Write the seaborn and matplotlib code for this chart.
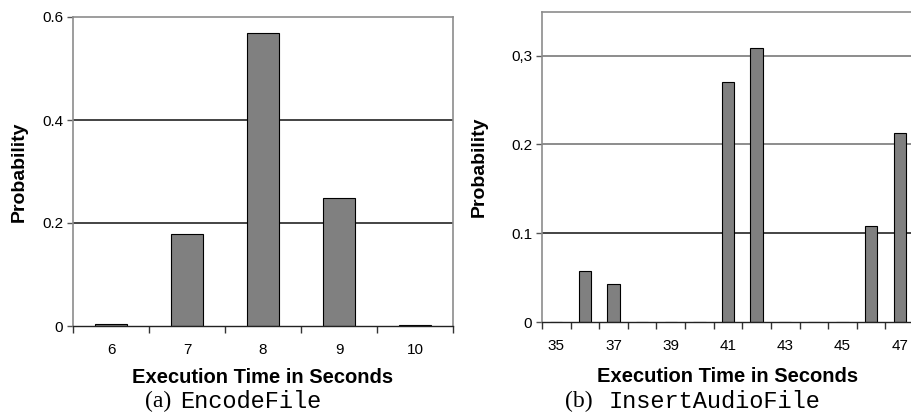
import numpy as np
import pandas as pd
import matplotlib
matplotlib.use("Agg")
import matplotlib.pyplot as plt
import seaborn as sns

sns.set_style("white")
plt.rcParams['font.family'] = ['Liberation Sans', 'DejaVu Sans']
plt.rcParams['text.color'] = 'black'
plt.rcParams['axes.labelcolor'] = 'black'
plt.rcParams['xtick.color'] = 'black'
plt.rcParams['ytick.color'] = 'black'

# -----------------------------------
# Data
# -----------------------------------
encode_times = [6, 7, 8, 9, 10]
encode_prob = [0.003, 0.179, 0.569, 0.249, 0.001]

insert_times = list(range(35, 48))
insert_prob = [0.0, 0.057, 0.043, 0.0, 0.0, 0.0, 0.27, 0.309,
               0.0, 0.0, 0.0, 0.108, 0.213]

left_yticks = [0, 0.2, 0.4, 0.6]
left_yticklabels = ["0", "0.2", "0.4", "0.6"]
right_yticks = [0, 0.1, 0.2, 0.3]
right_yticklabels = ["0", "0.1", "0.2", "0,3"]

BAR = "#808080"
SPINE = "#8c8c8c"

W, H = 911, 412
fig = plt.figure(figsize=(W / 100, H / 100), dpi=100)


def px_axes(x0, y0, x1, y1):
    return fig.add_axes([x0 / W, 1 - y1 / H, (x1 - x0) / W, (y1 - y0) / H])


def draw_panel(ax, times, probs, width, ylim, yticks, yticklabels,
               label_every, grid_colors):
    df = pd.DataFrame({"time": [str(t) for t in times], "prob": probs})
    sns.barplot(data=df, x="time", y="prob", order=df["time"], ax=ax,
                color=BAR, width=width, edgecolor="black", linewidth=0.8,
                saturation=1, errorbar=None)
    n = len(times)
    ax.set_xlim(-0.5, n - 0.5)
    ax.set_ylim(*ylim)

    # category labels centred, tick marks at category boundaries
    pos = np.arange(0, n, label_every)
    ax.set_xticks(pos)
    ax.set_xticklabels([str(times[i]) for i in pos])
    ax.set_xticks(np.arange(-0.5, n, 1.0), minor=True)
    ax.tick_params(axis="x", which="major", length=0, pad=12, labelsize=11)
    ax.tick_params(axis="x", which="minor", length=5, width=1, color="#333333",
                   direction="out", bottom=True)

    ax.set_yticks(yticks)
    ax.set_yticklabels(yticklabels)
    ax.tick_params(axis="y", length=4, width=1, color="#555555",
                   direction="out", pad=3, labelsize=11, left=True)

    for y, c in zip(yticks[1:], grid_colors):
        ax.axhline(y, color=c, lw=1.1, zorder=0.5)

    for side in ["left", "top", "right"]:
        ax.spines[side].set_color(SPINE)
        ax.spines[side].set_linewidth(1.2)
    ax.spines["bottom"].set_color("#222222")
    ax.spines["bottom"].set_linewidth(1.0)

    ax.set_xlabel("Execution Time in Seconds", fontsize=14.5, fontweight="bold")
    ax.set_ylabel("Probability", fontsize=14, fontweight="bold")


# -----------------------------------
# (a) EncodeFile
# -----------------------------------
ax1 = px_axes(73, 17, 453, 326)
draw_panel(ax1, encode_times, encode_prob, 0.41, (0, 0.6),
           left_yticks, left_yticklabels, 1, ["#111111", "#111111"])
ax1.xaxis.set_label_coords(0.5, -0.137)
ax1.yaxis.set_label_coords(-0.118, 0.5)

# -----------------------------------
# (b) InsertAudioFile
# -----------------------------------
ax2 = px_axes(542, 12, 914, 322)
draw_panel(ax2, insert_times, insert_prob, 0.43, (0, 0.349),
           right_yticks, right_yticklabels, 2, ["#111111", "#6e6e6e", "#6e6e6e"])
ax2.xaxis.set_label_coords(0.5, -0.146)
ax2.yaxis.set_label_coords(-0.145, 0.5)
ax2.spines["right"].set_visible(False)

# captions
cap_y = 1 - 401 / H
fig.text(171 / W, cap_y, "(a)", family="Liberation Serif", fontsize=17,
         ha="right", va="center")
fig.text(180 / W, cap_y, "EncodeFile", family="Liberation Mono", fontsize=17,
         ha="left", va="center")
fig.text(593 / W, cap_y, "(b)", family="Liberation Serif", fontsize=17,
         ha="right", va="center")
fig.text(609 / W, cap_y, "InsertAudioFile", family="Liberation Mono",
         fontsize=17, ha="left", va="center")

fig.savefig("out.png", dpi=100)
